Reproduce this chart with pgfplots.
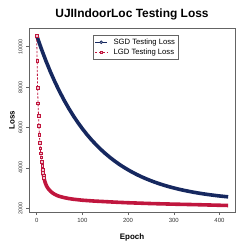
\documentclass[border=0pt]{standalone}
\usepackage{fontspec}
\setmainfont{Liberation Sans}
\usepackage{pgfplots}
\pgfplotsset{compat=1.18}
\definecolor{navyc}{RGB}{22,40,95}
\definecolor{crim}{RGB}{192,22,62}
\definecolor{axgray}{RGB}{100,100,100}
\begin{document}
\begin{tikzpicture}[x=1bp,y=1bp]
\path (0,0) rectangle (249,249);
\begin{axis}[
  at={(29bp,37bp)}, anchor=south west,
  width=206bp, height=184bp, scale only axis,
  xmin=-16.8, xmax=434, ymin=1817, ymax=10925,
  xtick={0,100,200,300,400},
  ytick={2000,4000,6000,8000,10000},
  scaled y ticks=false, scaled x ticks=false,
  xtick pos=bottom, ytick pos=left,
  tick align=outside, major tick length=3bp,
  tick style={axgray, line width=0.5bp},
  axis line style={axgray, line width=0.6bp},
  /pgf/number format/assume math mode=true,
  /pgf/number format/1000 sep={},
  ticklabel style={text=black!80},
  xticklabel style={font=\fontsize{6}{7}\selectfont},
  yticklabel style={font=\fontsize{5.5}{6}\selectfont, rotate=90, anchor=south},
  title={UJIIndoorLoc Testing Loss},
  title style={at={(axis description cs:0.5,1)}, anchor=center, yshift=7.5bp, font=\bfseries\fontsize{12}{14}\selectfont},
  xlabel={Epoch},
  xlabel style={at={(axis description cs:0.5,-0.136)}, anchor=center, font=\bfseries\fontsize{8}{9}\selectfont},
  ylabel={Loss},
  ylabel style={at={(axis description cs:-0.0825,0.5)}, anchor=center, font=\bfseries\fontsize{8}{9}\selectfont},
  legend image code/.code={\draw[mark repeat=2,mark phase=2,#1] plot coordinates {(0bp,0bp) (6bp,0bp) (12bp,0bp)};},
  legend style={at={(axis description cs:0.311,0.962)}, anchor=north west, draw=axgray, line width=0.5bp,
    font=\fontsize{7.7}{8}\selectfont, inner sep=1.5bp, row sep=-1bp, cells={anchor=west},
    /tikz/every odd column/.append style={column sep=4bp}},
]
% SGD thick line
\addplot[navyc, line width=3.6bp, line join=round, forget plot] coordinates {
(0,10550) (10,9910) (20,9311) (30,8759) (40,8251) (50,7783) (60,7351) (70,6954)
(80,6588) (90,6250) (100,5939) (110,5653) (120,5389) (130,5146) (140,4922)
(150,4716) (160,4526) (170,4351) (180,4189) (190,4041) (200,3904) (210,3778)
(220,3661) (230,3554) (240,3456) (250,3365) (260,3281) (270,3204) (280,3133)
(290,3067) (300,3007) (310,2951) (320,2900) (330,2853) (340,2809) (350,2769)
(360,2732) (370,2698) (380,2667) (390,2638) (400,2611) (410,2587) (419,2567)
};
% LGD thick line
\addplot[crim, line width=3.6bp, line join=round, forget plot] coordinates {
(13,3920) (14,3760) (15,3620) (16,3500) (18,3320) (20,3190) (22,3090) (25,2980)
(30,2850) (35,2755) (40,2685) (45,2630) (50,2590) (60,2530) (70,2485) (80,2450)
(90,2425) (100,2400) (125,2360) (150,2330) (175,2300) (200,2275) (250,2235)
(300,2205) (350,2180) (400,2150) (419,2140)
};
% LGD early markers
\addplot[crim, line width=0.8bp, dash pattern=on 2.2bp off 1.6bp, mark=square*, mark size=1.3bp,
  mark options={solid, fill=crim!25, line width=0.6bp}, forget plot] coordinates {
(0,10545) (1,9290) (2,7970) (3,7200) (4,6570) (5,6070) (6,5630) (7,5250)
(8,4970) (9,4720) (10,4520) (11,4310) (12,4110) (13,3920) (14,3760) (15,3620) (16,3500)
};
\addlegendimage{navyc, line width=0.8bp, mark=*, mark size=1.4bp, mark options={fill=navyc!40, line width=0.6bp}}
\addlegendentry{SGD Testing Loss}
\addlegendimage{crim, line width=0.8bp, dash pattern=on 2.2bp off 1.6bp, mark=square*, mark size=1.3bp, mark options={solid, fill=crim!25, line width=0.6bp}}
\addlegendentry{LGD Testing Loss}
\end{axis}
\end{tikzpicture}
\end{document}
